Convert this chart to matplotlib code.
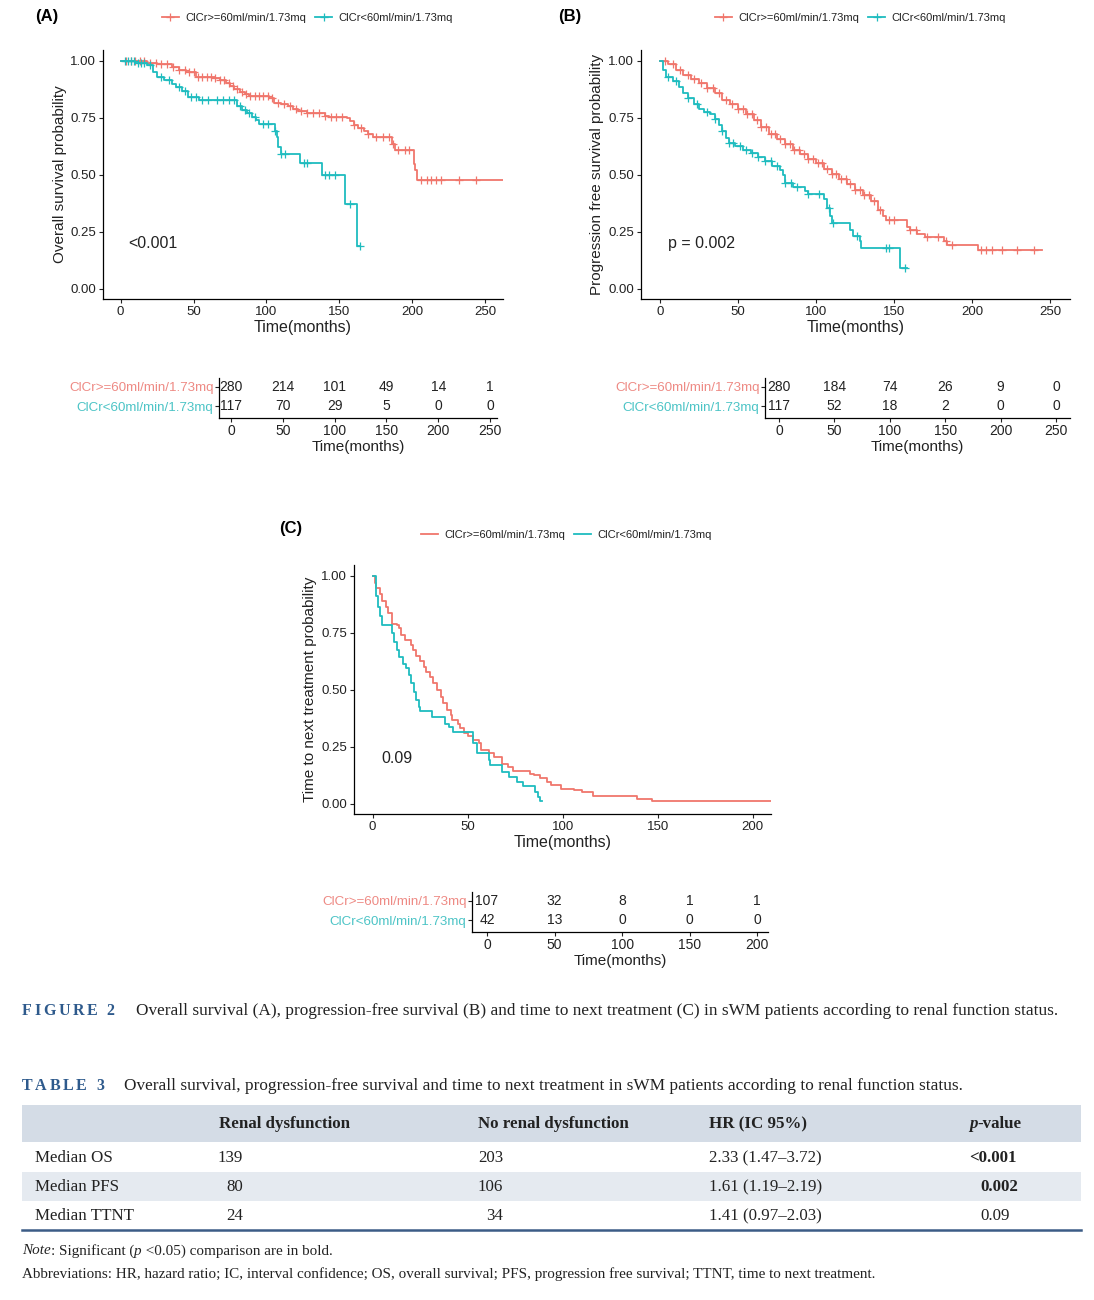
import numpy as np
import matplotlib.pyplot as plt
from matplotlib.lines import Line2D
from matplotlib.patches import Rectangle

W, H = 1094, 1300
RED = '#F0766C'
TEAL = '#1FBCBF'
RED_TXT = '#EE8A84'
TEAL_TXT = '#4CC4C6'
BLUE = '#2E5A8C'

lab_hi = 'ClCr>=60ml/min/1.73mq'
lab_lo = 'ClCr<60ml/min/1.73mq'

# ---- (A) overall survival ----
os_hi_time = [0, 18, 25, 35, 40, 45, 52, 65, 68, 72, 75, 78, 82, 85, 88, 102, 105, 110, 115, 118,
              122, 128, 140, 143, 155, 157, 160, 163, 167, 170, 173, 186, 188, 201, 202, 203, 262]
os_hi_surv = [1.00, 0.99, 0.985, 0.975, 0.96, 0.95, 0.93, 0.925, 0.915, 0.905, 0.89, 0.875, 0.865, 0.855,
              0.845, 0.835, 0.815, 0.81, 0.80, 0.79, 0.78, 0.77, 0.76, 0.755, 0.75, 0.735, 0.72, 0.705,
              0.69, 0.68, 0.665, 0.635, 0.61, 0.545, 0.52, 0.477, 0.477]
os_hi_cens = [4, 7, 10, 13, 16, 20, 24, 28, 32, 36, 40, 44, 47, 50, 53, 56, 59, 62, 65, 68, 71, 74, 77,
              80, 83, 86, 89, 92, 95, 98, 101, 104, 108, 112, 116, 120, 124, 128, 132, 136, 140, 144,
              148, 152, 160, 165, 170, 175, 180, 184, 187, 190, 195, 198, 206, 210, 213, 216, 220, 232, 244]
os_lo_time = [0, 10, 18, 22, 25, 30, 35, 38, 42, 46, 54, 80, 83, 87, 90, 93, 95, 106, 107, 108,
              110, 123, 138, 154, 162, 164]
os_lo_surv = [1.00, 0.99, 0.98, 0.95, 0.93, 0.915, 0.90, 0.885, 0.87, 0.84, 0.83, 0.80, 0.785, 0.77,
              0.755, 0.74, 0.725, 0.69, 0.665, 0.62, 0.59, 0.55, 0.50, 0.37, 0.185, 0.185]
os_lo_cens = [3, 5, 7, 9, 12, 14, 16, 20, 28, 33, 40, 44, 48, 52, 56, 60, 66, 70, 74, 78, 82, 85, 88,
              92, 98, 101, 106, 110, 113, 126, 128, 140, 143, 147, 157, 164]

# ---- (B) progression free survival ----
pfs_hi_time = [0, 5, 10, 15, 20, 25, 30, 35, 40, 45, 50, 55, 60, 65, 70, 75, 80, 85, 90, 95,
               100, 105, 110, 115, 120, 125, 130, 135, 140, 143, 145, 158, 160, 165, 170, 182, 184, 204, 245]
pfs_hi_surv = [1.0, 0.985, 0.96, 0.94, 0.92, 0.905, 0.88, 0.86, 0.83, 0.81, 0.79, 0.765, 0.74, 0.71,
               0.68, 0.655, 0.635, 0.61, 0.59, 0.57, 0.55, 0.525, 0.505, 0.48, 0.46, 0.435, 0.41, 0.385,
               0.345, 0.32, 0.30, 0.27, 0.255, 0.24, 0.225, 0.21, 0.19, 0.17, 0.17]
pfs_hi_cens = [3, 8, 13, 18, 22, 26, 30, 34, 38, 42, 46, 50, 53, 56, 59, 62, 65, 68, 71, 74, 77, 80,
               83, 86, 89, 92, 95, 98, 101, 104, 107, 110, 113, 116, 119, 122, 125, 128, 131, 134, 137,
               141, 147, 150, 160, 164, 171, 178, 183, 187, 206, 209, 213, 219, 229, 240]
pfs_lo_time = [0, 2, 4, 8, 12, 15, 18, 22, 25, 28, 32, 35, 38, 40, 42, 44, 48, 53, 58, 63,
               67, 72, 77, 79, 80, 85, 93, 95, 105, 107, 109, 110, 122, 124, 128, 129, 154, 158]
pfs_lo_surv = [1.0, 0.96, 0.93, 0.91, 0.885, 0.86, 0.835, 0.81, 0.79, 0.775, 0.765, 0.745, 0.72, 0.69,
               0.66, 0.64, 0.625, 0.61, 0.595, 0.58, 0.56, 0.54, 0.52, 0.50, 0.465, 0.445, 0.43, 0.415,
               0.395, 0.355, 0.32, 0.29, 0.255, 0.23, 0.21, 0.18, 0.09, 0.09]
pfs_lo_cens = [5, 10, 18, 24, 30, 35, 40, 44, 47, 51, 55, 59, 63, 67, 71, 75, 80, 84, 88, 95, 102,
               108, 111, 126, 145, 147, 157]

# ---- (C) time to next treatment ----
ttnt_hi_time = [0, 1, 2, 4, 5, 7, 8, 10, 13, 14, 15, 17, 20, 21, 23, 25, 27, 28, 30, 32,
                34, 36, 37, 39, 41, 42, 45, 46, 48, 50, 53, 56, 57, 61, 64, 68, 71, 74, 83, 85,
                88, 92, 94, 99, 106, 110, 116, 139, 147, 210]
ttnt_hi_surv = [1.0, 0.97, 0.945, 0.92, 0.89, 0.865, 0.835, 0.79, 0.785, 0.77, 0.74, 0.72, 0.695, 0.675,
                0.65, 0.625, 0.60, 0.58, 0.555, 0.53, 0.50, 0.47, 0.44, 0.41, 0.39, 0.365, 0.35, 0.33,
                0.31, 0.295, 0.28, 0.265, 0.235, 0.22, 0.205, 0.175, 0.16, 0.145, 0.13, 0.125, 0.11,
                0.095, 0.08, 0.065, 0.06, 0.05, 0.035, 0.02, 0.01, 0.01]
ttnt_lo_time = [0, 2, 3, 4, 5, 10, 11, 13, 14, 16, 17.5, 19, 20, 22, 23, 24.5, 25, 31, 38, 40,
                42.5, 52.6, 55, 61, 62, 68, 72, 76, 79, 85.5, 87, 88, 89]
ttnt_lo_surv = [1.0, 0.91, 0.865, 0.825, 0.785, 0.75, 0.71, 0.675, 0.645, 0.615, 0.595, 0.565, 0.53,
                0.49, 0.455, 0.425, 0.405, 0.38, 0.35, 0.335, 0.315, 0.265, 0.22, 0.19, 0.17, 0.14,
                0.115, 0.095, 0.075, 0.05, 0.03, 0.01, 0.01]

# ---- numbers at risk ----
risk_t_ab = [0, 50, 100, 150, 200, 250]
os_risk_hi = [280, 214, 101, 49, 14, 1]
os_risk_lo = [117, 70, 29, 5, 0, 0]
pfs_risk_hi = [280, 184, 74, 26, 9, 0]
pfs_risk_lo = [117, 52, 18, 2, 0, 0]
risk_t_c = [0, 50, 100, 150, 200]
ttnt_risk_hi = [107, 32, 8, 1, 1]
ttnt_risk_lo = [42, 13, 0, 0, 0]

# ---- table 3 ----
tab_rows = ['Median OS', 'Median PFS', 'Median TTNT']
tab_renal = ['139', '80', '24']
tab_norenal = ['203', '106', '34']
tab_hr = ['2.33 (1.47\u20133.72)', '1.61 (1.19\u20132.19)', '1.41 (0.97\u20132.03)']
tab_p = ['<0.001', '0.002', '0.09']
tab_bold = [True, True, False]

plt.rcParams['font.family'] = ['Liberation Sans', 'DejaVu Sans']
fig = plt.figure(figsize=(W / 100, H / 100), dpi=100)

# overlay axes in pixel units for captions / table
ov = fig.add_axes([0, 0, 1, 1], zorder=-1)
ov.set_xlim(0, W)
ov.set_ylim(H, 0)
ov.axis('off')


def px_axes(l, t, r, b):
    return fig.add_axes([l / W, 1 - b / H, (r - l) / W, (b - t) / H])


def surv_at(times, survs, pts):
    idx = np.searchsorted(times, pts, side='right') - 1
    return np.array(survs)[idx]


def km_panel(box, xlim, xticks, curves, ylabel, ylab_x, ptext, pxy):
    ax = px_axes(*box)
    for times, survs, cens, col in curves:
        ax.step(times, survs, where='post', color=col, lw=1.3)
        if cens is not None:
            ax.plot(cens, surv_at(times, survs, cens), ls='none', marker='+', ms=6, mew=0.9, color=col)
    ax.set_xlim(*xlim)
    ax.set_ylim(-0.046, 1.048)
    ax.set_xticks(xticks)
    ax.set_yticks([0, 0.25, 0.5, 0.75, 1.0])
    ax.set_yticklabels(['0.00', '0.25', '0.50', '0.75', '1.00'])
    for s in ['top', 'right']:
        ax.spines[s].set_visible(False)
    for s in ['left', 'bottom']:
        ax.spines[s].set_linewidth(0.9)
    ax.tick_params(labelsize=9.5, length=3, width=0.8, colors='#222222', pad=2)
    ax.set_xlabel('Time(months)', fontsize=11.5, color='#222222')
    ax.set_ylabel(ylabel, fontsize=11, color='#222222')
    ax.xaxis.set_label_coords(0.5, -0.085)
    ax.yaxis.set_label_coords((ylab_x + 7 - box[0]) / (box[2] - box[0]), 0.5)
    ax.text(pxy[0], pxy[1], ptext, fontsize=11.5, va='center', ha='left', color='#222222')
    return ax


def risk_panel(box, xlim, ts, hi, lo):
    ax = px_axes(*box)
    ax.set_xlim(*xlim)
    ax.set_ylim(-0.63, 1.47)
    for x, v in zip(ts, hi):
        ax.text(x, 1, str(v), ha='center', va='center', fontsize=10, color='#222222')
    for x, v in zip(ts, lo):
        ax.text(x, 0, str(v), ha='center', va='center', fontsize=10, color='#222222')
    ax.set_yticks([1, 0])
    ax.set_yticklabels([lab_hi, lab_lo])
    ax.set_xticks(ts)
    for s in ['top', 'right']:
        ax.spines[s].set_visible(False)
    for s in ['left', 'bottom']:
        ax.spines[s].set_linewidth(0.9)
    ax.tick_params(labelsize=10, length=3, width=0.8, colors='#222222', pad=1.5)
    ax.tick_params(axis='y', labelsize=9.6, pad=1)
    ax.get_yticklabels()[0].set_color(RED_TXT)
    ax.get_yticklabels()[1].set_color(TEAL_TXT)
    ax.set_xlabel('Time(months)', fontsize=11, color='#222222', labelpad=1)
    return ax


def legend_at(cx, cy, with_cross):
    mk = '+' if with_cross else None
    hs = [Line2D([], [], color=RED, lw=1.3, marker=mk, ms=6, mew=0.9),
          Line2D([], [], color=TEAL, lw=1.3, marker=mk, ms=6, mew=0.9)]
    fig.legend(hs, [lab_hi, lab_lo], loc='center', bbox_to_anchor=(cx / W, 1 - cy / H), ncol=2,
               frameon=False, fontsize=8, handlelength=1.6, handletextpad=0.5, columnspacing=0.8,
               labelcolor='#222222')


# panel A
km_panel((103, 50, 503, 299), (-12.1, 262.3), [0, 50, 100, 150, 200, 250],
         [(os_hi_time, os_hi_surv, os_hi_cens, RED), (os_lo_time, os_lo_surv, os_lo_cens, TEAL)],
         'Overall survival probability', 60, '<0.001', (5, 0.196))
risk_panel((219, 378, 497, 418), (-11.6, 256.7), risk_t_ab, os_risk_hi, os_risk_lo)
legend_at(307, 18, True)
ov.text(47, 17, '(A)', fontsize=12, fontweight='bold', ha='center', va='center')

# panel B
km_panel((641, 50, 1070, 299), (-12.2, 262.8), [0, 50, 100, 150, 200, 250],
         [(pfs_hi_time, pfs_hi_surv, pfs_hi_cens, RED), (pfs_lo_time, pfs_lo_surv, pfs_lo_cens, TEAL)],
         'Progression free survival probability', 597, 'p = 0.002', (5, 0.196))
risk_panel((765, 378, 1070, 418), (-12.6, 262.6), risk_t_ab, pfs_risk_hi, pfs_risk_lo)
legend_at(860, 18, True)
ov.text(570, 16, '(B)', fontsize=12, fontweight='bold', ha='center', va='center')

# panel C
km_panel((354, 565, 771, 814), (-9.8, 209.6), [0, 50, 100, 150, 200],
         [(ttnt_hi_time, ttnt_hi_surv, None, RED), (ttnt_lo_time, ttnt_lo_surv, None, TEAL)],
         'Time to next treatment probability', 310, '0.09', (4.4, 0.198))
risk_panel((472, 892, 768, 932), (-11.1, 208), risk_t_c, ttnt_risk_hi, ttnt_risk_lo)
legend_at(566, 535, False)
ov.text(291, 528, '(C)', fontsize=12, fontweight='bold', ha='center', va='center')

# ---- captions and table ----
SERIF = ['Liberation Serif', 'DejaVu Serif']
INK = '#222222'
renderer = fig.canvas.get_renderer()


def rich(x, y, pieces, size):
    for txt, kw in pieces:
        t = ov.text(x, y, txt, fontsize=size, family=SERIF, va='center', ha='left', color=INK, **kw)
        x += t.get_window_extent(renderer).width


def spaced(x, y, txt, size, gap, **kw):
    for ch in txt:
        t = ov.text(x, y, ch, fontsize=size, family=SERIF, va='center', ha='left', **kw)
        x += t.get_window_extent(renderer).width + gap


spaced(22, 1011, 'FIGURE 2', 11.5, 2.6, fontweight='bold', color=BLUE)
ov.text(136, 1011, 'Overall survival (A), progression-free survival (B) and time to next treatment (C) '
        'in sWM patients according to renal function status.', fontsize=12.4, family=SERIF,
        va='center', color=INK)
spaced(22, 1086, 'TABLE 3', 11.5, 2.6, fontweight='bold', color=BLUE)
ov.text(124, 1086, 'Overall survival, progression-free survival and time to next treatment in sWM '
        'patients according to renal function status.', fontsize=12.4, family=SERIF,
        va='center', color=INK)

ov.add_patch(Rectangle((22, 1105), 1059, 37, color='#D4DCE6', lw=0))
ov.add_patch(Rectangle((22, 1172), 1059, 29, color='#E5EAF0', lw=0))
ov.plot([22, 1081], [1230, 1230], color='#3C5C86', lw=1.8)

TS = 12.2
hy = 1124
ov.text(219, hy, 'Renal dysfunction', fontsize=TS, family=SERIF, fontweight='bold', va='center', color=INK)
ov.text(478, hy, 'No renal dysfunction', fontsize=TS, family=SERIF, fontweight='bold', va='center', color=INK)
ov.text(709, hy, 'HR (IC 95%)', fontsize=TS, family=SERIF, fontweight='bold', va='center', color=INK)
rich(969, hy, [('p', dict(style='italic', fontweight='bold')), ('-value', dict(fontweight='bold'))], TS)

row_y = [1158, 1187, 1216]
for i, y in enumerate(row_y):
    ov.text(35, y, tab_rows[i], fontsize=TS, family=SERIF, va='center', color=INK)
    ov.text(243, y, tab_renal[i], fontsize=TS, family=SERIF, va='center', ha='right', color=INK)
    ov.text(503, y, tab_norenal[i], fontsize=TS, family=SERIF, va='center', ha='right', color=INK)
    ov.text(709, y, tab_hr[i], fontsize=TS, family=SERIF, va='center', color=INK)
    px = 969 if tab_p[i].startswith('<') else 980
    ov.text(px, y, tab_p[i], fontsize=TS, family=SERIF, va='center', color=INK,
            fontweight='bold' if tab_bold[i] else 'normal')

rich(22, 1251, [('Note', dict(style='italic')), (': Significant (', {}), ('p', dict(style='italic')),
                (' <0.05) comparison are in bold.', {})], 10.9)
ov.text(22, 1274, 'Abbreviations: HR, hazard ratio; IC, interval confidence; OS, overall survival; '
        'PFS, progression free survival; TTNT, time to next treatment.', fontsize=10.9, family=SERIF,
        va='center', color=INK)

fig.savefig('out.png', dpi=100)
